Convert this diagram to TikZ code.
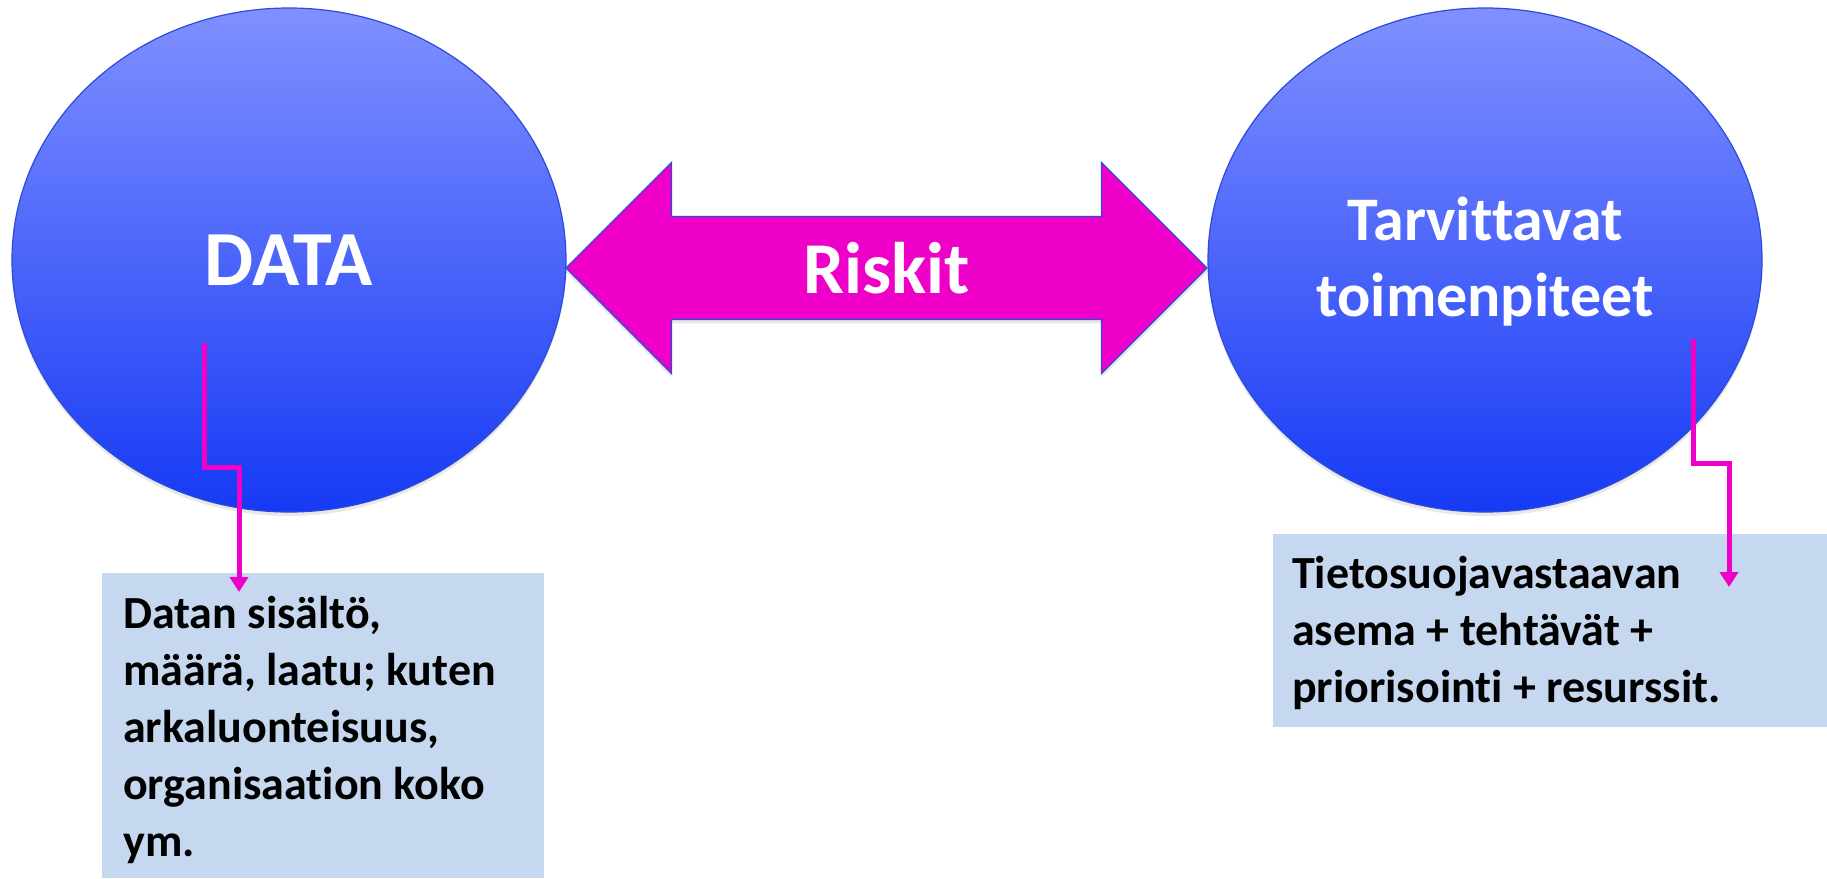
\documentclass[tikz,border=0pt]{standalone}
\usepackage{fontspec}
\setmainfont{Carlito}[Ligatures={NoCommon}]
\usetikzlibrary{shapes.geometric, shapes.arrows, arrows.meta, shadows}

\definecolor{circtop}{RGB}{128,144,255}
\definecolor{circbot}{RGB}{22,58,245}
\definecolor{circline}{RGB}{45,75,215}
\definecolor{riskpink}{RGB}{238,0,200}
\definecolor{notebg}{RGB}{198,216,240}

\tikzset{
  bubble/.style={ellipse, draw=circline, line width=1.2pt, top color=circtop,
    bottom color=circbot, minimum width=554pt, minimum height=504pt,
    inner sep=0pt, text=white, align=center,
    drop shadow={shadow xshift=0pt, shadow yshift=-4pt, opacity=.18}},
  notebox/.style={rectangle, fill=notebg, inner sep=0pt, anchor=north west},
  notetext/.style={inner sep=0pt, align=left, anchor=base west,
    font=\bfseries\fontsize{46}{57}\selectfont},
  pointer/.style={riskpink, line width=5pt, -{Triangle[width=18pt, length=15pt]}},
}

\begin{document}
\begin{tikzpicture}[x=1pt, y=-1pt]
      \useasboundingbox (0,0) rectangle (1827,878);

      \node[bubble, font=\bfseries\fontsize{78}{94}\selectfont] (data) at (289,260) {DATA};
      \node[bubble, font=\bfseries\fontsize{62}{76}\selectfont] (toimet) at (1485,260)
      {\rule{0pt}{47pt}Tarvittavat\\toimenpiteet};

      \node[double arrow, double arrow head extend=52pt, minimum width=211pt,
      minimum height=641pt, inner xsep=0pt, inner ysep=23pt, fill=riskpink,
      draw=circline, line width=1.2pt,
      text=white, font=\bfseries\fontsize{73}{88}\selectfont,
      drop shadow={shadow xshift=0pt, shadow yshift=-4pt, opacity=.18}]
      (riskit) at (886.5,268) {Riskit};

      % base anchor of a multi-line node = last line
      \node[notebox, minimum width=442pt, minimum height=305pt] (datanote) at (102,573) {};
      \node[notetext] (datatext) at ([xshift=21pt, yshift=-283pt]datanote.north west)
      {Datan sisältö,\\määrä, laatu; kuten\\arkaluonteisuus,\\organisaation koko\\ym.};

      \node[notebox, minimum width=554pt, minimum height=193pt] (toimetnote) at (1273,534) {};
      \node[notetext] (toimettext) at ([xshift=19pt, yshift=-168pt]toimetnote.north west)
      {Tietosuojavastaavan\\asema + tehtävät +\\priorisointi + resurssit.};

      \coordinate (dtop) at (204,343);
      \coordinate (dbend) at (239,467);
      \coordinate (dtip) at (239,592);
      \coordinate (ttop) at (1693,339);
      \coordinate (tbend) at (1729,463);
      \coordinate (ttip) at (1729,587);

      \draw[pointer] (dtop) |- (dbend) -- (dtip);
      \draw[pointer] (ttop) |- (tbend) -- (ttip);
    \end{tikzpicture}
\end{document}
